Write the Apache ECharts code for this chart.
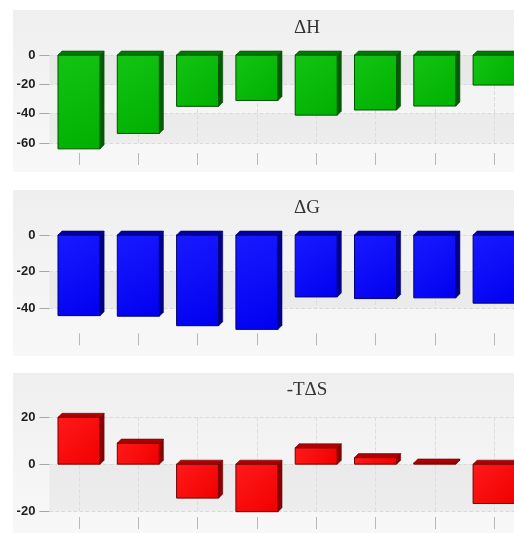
<!DOCTYPE html>
<html>
<head>
<meta charset="utf-8">
<script src="https://cdn.jsdelivr.net/npm/echarts@6/dist/echarts.min.js"></script>
<style>
  html, body { margin: 0; padding: 0; background: #fff; overflow: hidden; }
  #chart { width: 530px; height: 533px; }
</style>
</head>
<body>
<div id="chart"></div>
<script>
  // eight systems, no labels shown on the x axis
  var categories = ['1', '2', '3', '4', '5', '6', '7', '8'];
  var dH   = [-64, -53.5, -35, -31, -41, -37.5, -34.8, -20.5];
  var dG   = [-44, -44.3, -49.5, -51.5, -33.8, -34.7, -34.3, -37.2];
  var mTdS = [20, 9, -14.5, -20.3, 7, 2.8, 0.5, -16.8];
  var titles = ['\u0394H', '\u0394G', '-T\u0394S'];
  var yTicks = [[0, -20, -40, -60], [0, -20, -40], [20, 0, -20]];

  // the last bar runs off the right edge in the original, so the canvas is a bit wider than the window
  var panels = [
    { bg: [13, 10, 517, 162],  top: 55,    height: 88,   min: -60, max: 0,  offset: 10, titleY: 14 },
    { bg: [13, 190, 517, 166], top: 235,   height: 73.3, min: -40, max: 0,  offset: 25, titleY: 194 },
    { bg: [13, 373, 517, 160], top: 417.3, height: 93.7, min: -20, max: 20, offset: 6,  titleY: 376 }
  ];
  var palettes = [
    { front: ['#14c414', '#00b000'], top: '#007a00', side: '#005c00', stroke: '#005000' },
    { front: ['#1a1aff', '#0000f0'], top: '#0000a8', side: '#000088', stroke: '#000070' },
    { front: ['#ff1a1a', '#f00000'], top: '#b00000', side: '#8a0000', stroke: '#700000' }
  ];
  var seriesData = [dH, dG, mTdS];

  function bar3D(pal) {
    return function (params, api) {
      var base = api.coord([api.value(0), 0]);
      var end = api.coord([api.value(0), api.value(1)]);
      var w = api.size([1, 0])[0] * 0.71;
      var d = 4;
      var x0 = base[0] - w / 2, x1 = base[0] + w / 2;
      var yTop = Math.min(base[1], end[1]);
      var yBot = Math.max(base[1], end[1]);
      return {
        type: 'group',
        children: [
          {
            type: 'rect',
            shape: { x: x0, y: yTop, width: w, height: yBot - yTop },
            style: {
              fill: new echarts.graphic.LinearGradient(0, 0, 1, 1, [
                { offset: 0, color: pal.front[0] },
                { offset: 1, color: pal.front[1] }
              ]),
              stroke: pal.stroke, lineWidth: 1
            }
          },
          {
            type: 'polygon',
            shape: { points: [[x0, yTop], [x0 + d, yTop - d], [x1 + d, yTop - d], [x1, yTop]] },
            style: { fill: pal.top, stroke: pal.stroke, lineWidth: 0.6 }
          },
          {
            type: 'polygon',
            shape: { points: [[x1, yTop], [x1 + d, yTop - d], [x1 + d, yBot - d], [x1, yBot]] },
            style: { fill: pal.side, stroke: pal.stroke, lineWidth: 0.6 }
          }
        ]
      };
    };
  }

  var grids = [], xAxes = [], yAxes = [], series = [], titleOpts = [], graphics = [];
  panels.forEach(function (p, i) {
    graphics.push({
      type: 'rect', z: -100, silent: true,
      shape: { x: p.bg[0], y: p.bg[1], width: p.bg[2], height: p.bg[3] },
      style: {
        fill: new echarts.graphic.LinearGradient(0, 0, 0, 1, [
          { offset: 0, color: '#efefef' },
          { offset: 1, color: '#f8f8f8' }
        ])
      }
    });
    titleOpts.push({
      text: titles[i], left: 302, top: p.titleY, textAlign: 'center',
      textStyle: { fontFamily: 'Liberation Serif', fontSize: 19, fontWeight: 'normal', color: '#333' }
    });
    grids.push({ left: 49.4, width: 474.4, top: p.top, height: p.height });
    xAxes.push({
      type: 'category', gridIndex: i, data: categories, position: 'bottom', offset: p.offset,
      axisLine: { show: true, onZero: false, lineStyle: { color: 'rgba(0,0,0,0)' } },
      axisTick: { show: true, alignWithLabel: true, length: 12, lineStyle: { color: '#b8b8b8' } },
      axisLabel: { show: false },
      splitLine: { show: true, alignWithLabel: true, lineStyle: { color: '#dddddd', type: 'dashed' } }
    });
    yAxes.push({
      type: 'value', gridIndex: i, min: p.min, max: p.max, interval: 20,
      axisLine: { show: false },
      axisTick: { show: true, length: 10, lineStyle: { color: '#a8a8a8' } },
      axisLabel: {
        margin: 14, fontFamily: 'Liberation Sans', fontSize: 13, fontWeight: 'bold', color: '#1e1e1e',
        formatter: function (v) { return yTicks[i].indexOf(v) >= 0 ? String(v) : ''; }
      },
      splitLine: { show: true, lineStyle: { color: '#dadada', type: 'dashed' } },
      splitArea: { show: true, areaStyle: { color: ['rgba(0,0,0,0.038)', 'rgba(0,0,0,0)'] } }
    });
    series.push({
      type: 'custom', xAxisIndex: i, yAxisIndex: i, clip: false,
      renderItem: bar3D(palettes[i]),
      encode: { x: 0, y: 1 },
      data: seriesData[i].map(function (v, k) { return [k, v]; })
    });
  });

  var myChart = echarts.init(document.getElementById('chart'));
  var option = {
    animation: false,
    backgroundColor: '#ffffff',
    title: titleOpts,
    graphic: graphics,
    grid: grids,
    xAxis: xAxes,
    yAxis: yAxes,
    series: series
  };
  myChart.setOption(option);
</script>
</body>
</html>
